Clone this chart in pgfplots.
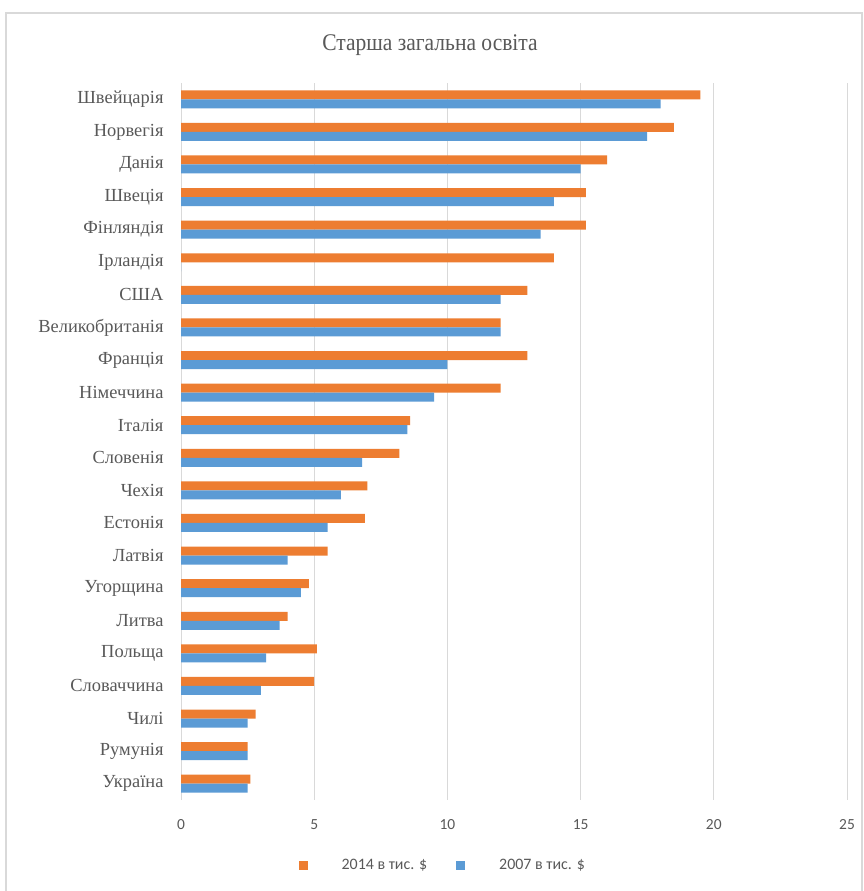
\documentclass[border=0pt]{standalone}
\usepackage{pgfplots}
\pgfplotsset{compat=1.18}
\usepackage{pgfplotstable}
\usepackage{fontspec}
\setmainfont{Liberation Serif}
\newfontfamily\carlito{Carlito}
\newfontfamily\titlefont[FakeStretch=0.9]{Liberation Serif}
\definecolor{org}{HTML}{ED7D31}
\definecolor{blu}{HTML}{5B9BD5}
\definecolor{txt}{HTML}{595959}
\definecolor{grd}{HTML}{D9D9D9}

\pgfplotstableread{
idx y2014 y2007
0 19.5 18.0
1 18.5 17.5
2 16.0 15.0
3 15.2 14.0
4 15.2 13.5
5 14.0 0
6 13.0 12.0
7 12.0 12.0
8 13.0 10.0
9 12.0 9.5
10 8.6 8.5
11 8.2 6.8
12 7.0 6.0
13 6.9 5.5
14 5.5 4.0
15 4.8 4.5
16 4.0 3.7
17 5.1 3.2
18 5.0 3.0
19 2.8 2.5
20 2.5 2.5
21 2.6 2.5
}\datatable

\begin{document}
\begin{tikzpicture}
\useasboundingbox (0bp,0bp) rectangle (864bp,891bp);
\fill[white] (0bp,0bp) rectangle (864bp,891bp);
\draw[grd, line width=1.5bp] (6bp,-5bp) rectangle (862bp,878bp);
\node[txt, font=\titlefont\fontsize{24}{28}\selectfont] at (430bp,846bp) {Старша загальна освіта};
\begin{axis}[
  at={(181bp,91bp)}, anchor=south west,
  scale only axis, width=666bp, height=717bp,
  xbar, bar width=9bp,
  xmin=0, xmax=25, ymin=-0.5, ymax=21.5,
  y dir=reverse,
  xtick={0,5,...,25},
  ytick={0,...,21},
  yticklabels={Швейцарія,Норвегія,Данія,Швеція,Фінляндія,Ірландія,США,Великобританія,Франція,Німеччина,Італія,Словенія,Чехія,Естонія,Латвія,Угорщина,Литва,Польща,Словаччина,Чилі,Румунія,Україна},
  xmajorgrids, major grid style={grd, line width=0.8bp},
  axis line style={draw=none},
  major tick length=0,
  tick label style={txt},
  xticklabel style={font=\carlito\fontsize{15.5}{18}\selectfont, yshift=-16bp},
  yticklabel style={font=\fontsize{18.5}{21}\selectfont, xshift=-14bp},
  /pgf/number format/assume math mode=true,
  legend columns=2,
  legend style={draw=none, fill=none, at={(0.393,-0.0907)}, anchor=center,
    font=\carlito\fontsize{16}{18}\selectfont, text=txt,
    /tikz/every odd column/.append style={column sep=32bp},
    /tikz/every even column/.append style={column sep=27bp}},
  legend image code/.code={\fill[#1] (0bp,-4.5bp) rectangle (9bp,4.5bp);},
]
\addplot[fill=org, draw=none, bar shift=4.5bp] table[x=y2014, y=idx] {\datatable};
\addplot[fill=blu, draw=none, bar shift=-4.5bp] table[x=y2007, y=idx] {\datatable};
\legend{2014 в тис. \$, 2007 в тис. \$}
\end{axis}
\end{tikzpicture}
\end{document}
